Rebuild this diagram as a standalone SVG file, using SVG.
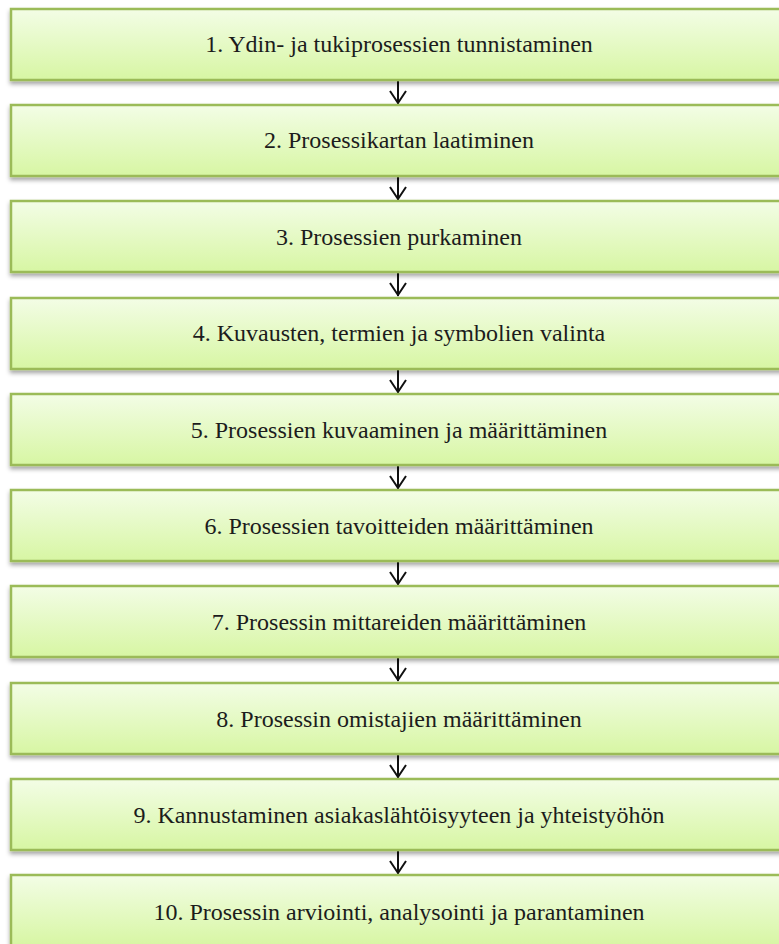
<svg xmlns="http://www.w3.org/2000/svg" width="779" height="944" viewBox="0 0 779 944">
  <defs>
    <linearGradient id="boxFill" x1="0" y1="0" x2="0" y2="1">
      <stop offset="0" stop-color="#f3fde6"/>
      <stop offset="1" stop-color="#d7f6a3"/>
    </linearGradient>
    <filter id="shadow" x="-5%" y="-20%" width="110%" height="150%">
      <feDropShadow dx="0" dy="3" stdDeviation="2" flood-color="#000" flood-opacity="0.35"/>
    </filter>
  </defs>
  <style>
    .box { fill: url(#boxFill); stroke: #9bbb59; stroke-width: 2.5; filter: url(#shadow); }
    .label { font-family: "Liberation Serif", "Times New Roman", serif; font-size: 24px; fill: #1c1c1c; text-anchor: middle; }
    .conn { stroke: #111; stroke-width: 2; fill: none; }
  </style>

  <!-- downward arrows between consecutive steps -->
  <g id="connectors">
    <line class="conn" x1="398" y1="81" x2="398" y2="104"/>
    <line class="conn" x1="398" y1="177" x2="398" y2="200"/>
    <line class="conn" x1="398" y1="273" x2="398" y2="296"/>
    <line class="conn" x1="398" y1="370" x2="398" y2="393"/>
    <line class="conn" x1="398" y1="466" x2="398" y2="489"/>
    <line class="conn" x1="398" y1="562" x2="398" y2="585"/>
    <line class="conn" x1="398" y1="658" x2="398" y2="681"/>
    <line class="conn" x1="398" y1="755" x2="398" y2="778"/>
    <line class="conn" x1="398" y1="851" x2="398" y2="874"/>
    <g class="conn">
      <path d="M390 91 L398 103 L406 91"/>
      <path d="M390 187 L398 199 L406 187"/>
      <path d="M390 283 L398 295 L406 283"/>
      <path d="M390 380 L398 392 L406 380"/>
      <path d="M390 476 L398 488 L406 476"/>
      <path d="M390 572 L398 584 L406 572"/>
      <path d="M390 668 L398 680 L406 668"/>
      <path d="M390 765 L398 777 L406 765"/>
      <path d="M390 861 L398 873 L406 861"/>
    </g>
  </g>

  <!-- step boxes run past the right edge of the canvas -->
  <g id="step1"><rect class="box" x="11" y="9" width="790" height="71"/><text class="label" x="399" y="52">1. Ydin- ja tukiprosessien tunnistaminen</text></g>
  <g id="step2"><rect class="box" x="11" y="105" width="790" height="71"/><text class="label" x="399" y="148">2. Prosessikartan laatiminen</text></g>
  <g id="step3"><rect class="box" x="11" y="201" width="790" height="71"/><text class="label" x="399" y="245">3. Prosessien purkaminen</text></g>
  <g id="step4"><rect class="box" x="11" y="298" width="790" height="71"/><text class="label" x="399" y="341">4. Kuvausten, termien ja symbolien valinta</text></g>
  <g id="step5"><rect class="box" x="11" y="394" width="790" height="71"/><text class="label" x="399" y="438">5. Prosessien kuvaaminen ja määrittäminen</text></g>
  <g id="step6"><rect class="box" x="11" y="490" width="790" height="71"/><text class="label" x="399" y="534">6. Prosessien tavoitteiden määrittäminen</text></g>
  <g id="step7"><rect class="box" x="11" y="586" width="790" height="71"/><text class="label" x="399" y="630">7. Prosessin mittareiden määrittäminen</text></g>
  <g id="step8"><rect class="box" x="11" y="683" width="790" height="71"/><text class="label" x="399" y="727">8. Prosessin omistajien määrittäminen</text></g>
  <g id="step9"><rect class="box" x="11" y="779" width="790" height="71"/><text class="label" x="399" y="823">9. Kannustaminen asiakaslähtöisyyteen ja yhteistyöhön</text></g>
  <g id="step10"><rect class="box" x="11" y="875" width="790" height="71"/><text class="label" x="399" y="920">10. Prosessin arviointi, analysointi ja parantaminen</text></g>
</svg>
